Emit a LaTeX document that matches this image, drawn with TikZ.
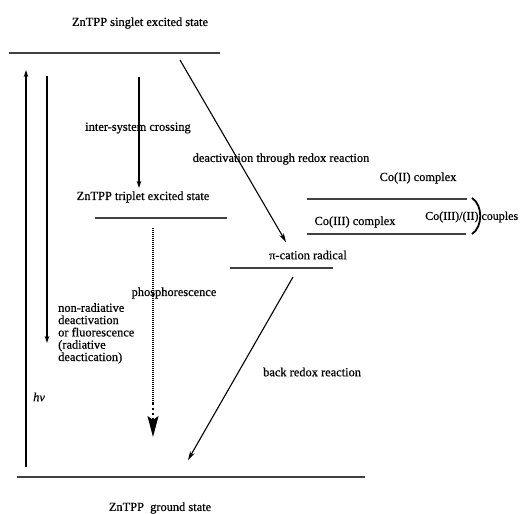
\documentclass[tikz,border=0pt]{standalone}
\usepackage{fontspec}
\setmainfont{Liberation Serif}[FakeBold=0.5]
\usetikzlibrary{arrows.meta}
\begin{document}
\begin{tikzpicture}[x=1pt,y=-1pt,
  lbl/.style={font=\fontsize{12.4}{12.3}\selectfont, inner sep=0pt},
  level/.style={line width=1.4pt, draw=black!75},
  arr/.style={line width=1.1pt, -{Stealth[length=7pt,width=4.5pt]}},
  bigarr/.style={line width=1.1pt, -{Stealth[length=9pt,width=5pt]}}]
\useasboundingbox (0,0) rectangle (523,514);
\begin{scope}
\clip (0,0) rectangle (523,514);
% level lines
\coordinate (s1) at (9,53);   \coordinate (s2) at (220,53);
\coordinate (t1) at (95,218); \coordinate (t2) at (227,218);
\coordinate (c21) at (307,199); \coordinate (c22) at (467,199);
\coordinate (c31) at (307,234); \coordinate (c32) at (466,234);
\coordinate (p1) at (230,268); \coordinate (p2) at (333,268);
\coordinate (g1) at (17,477); \coordinate (g2) at (365,477);
\draw[level] (s1) -- (s2);
\draw[level] (t1) -- (t2);
\draw[level] (c21) -- (c22);
\draw[level] (c31) -- (c32);
\draw[level] (p1) -- (p2);
\draw[level] (g1) -- (g2);
% labels
\node[lbl] (singlet) at (140,23) {ZnTPP singlet excited state};
\node[lbl] (isc) at (138,128) {inter-system crossing};
\node[lbl] (triplet) at (143,197) {ZnTPP triplet excited state};
\node[lbl] (phos) at (174,293) {phosphorescence};
\node[lbl, align=left, anchor=north west] (nonrad) at (58,303) {non-radiative\\deactivation\\or fluorescence\\(radiative\\deactication)};
\node[lbl, anchor=west] (hv) at (33,397) {\textit{hν}};
\node[lbl] (deact) at (281,159) {deactivation through redox reaction};
\node[lbl] (co2) at (418,178) {Co(II) complex};
\node[lbl] (co3) at (355,222) {Co(III) complex};
\node[lbl, anchor=west, font=\fontsize{12}{12}\selectfont] (couple) at (425,217) {Co(III)/(II) couples};
\node[lbl] (pi) at (308,255) {π-cation radical};
\node[lbl, anchor=west] (back) at (263,372) {back redox reaction};
\node[lbl] (ground) at (160,508) {ZnTPP\ \ ground state};
% arrow end points
\coordinate (hvA) at (26,467);  \coordinate (hvB) at (26,70);
\coordinate (nrA) at (47,76);   \coordinate (nrB) at (47,343);
\coordinate (iscA) at (139,77); \coordinate (iscB) at (139,188);
\coordinate (phA) at (153,228); \coordinate (phM) at (153,403); \coordinate (phB) at (153,437);
\coordinate (dA) at (180,60);   \coordinate (dB) at (286,242);
\coordinate (bA) at (293,277);  \coordinate (bB) at (188,460);
\draw[arr] (hvA) -- (hvB);
\draw[arr] (nrA) -- (nrB);
\draw[arr] (iscA) -- (iscB);
\draw[bigarr] (dA) -- (dB);
\draw[bigarr] (bA) -- (bB);
\draw[line width=2.2pt, dash pattern=on 1pt off 1pt] (phA) -- (phM);
\draw[line width=1.5pt, dash pattern=on 1.5pt off 3.5pt, -{Stealth[length=21pt,width=11pt,inset=4pt]}] (phM) -- (phB);
% brace
\coordinate (brA) at (472,198); \coordinate (brB) at (472,234);
\draw[line width=1.8pt] (brA) .. controls (483,205) and (483,227) .. (brB);
\end{scope}
\end{tikzpicture}
\end{document}
